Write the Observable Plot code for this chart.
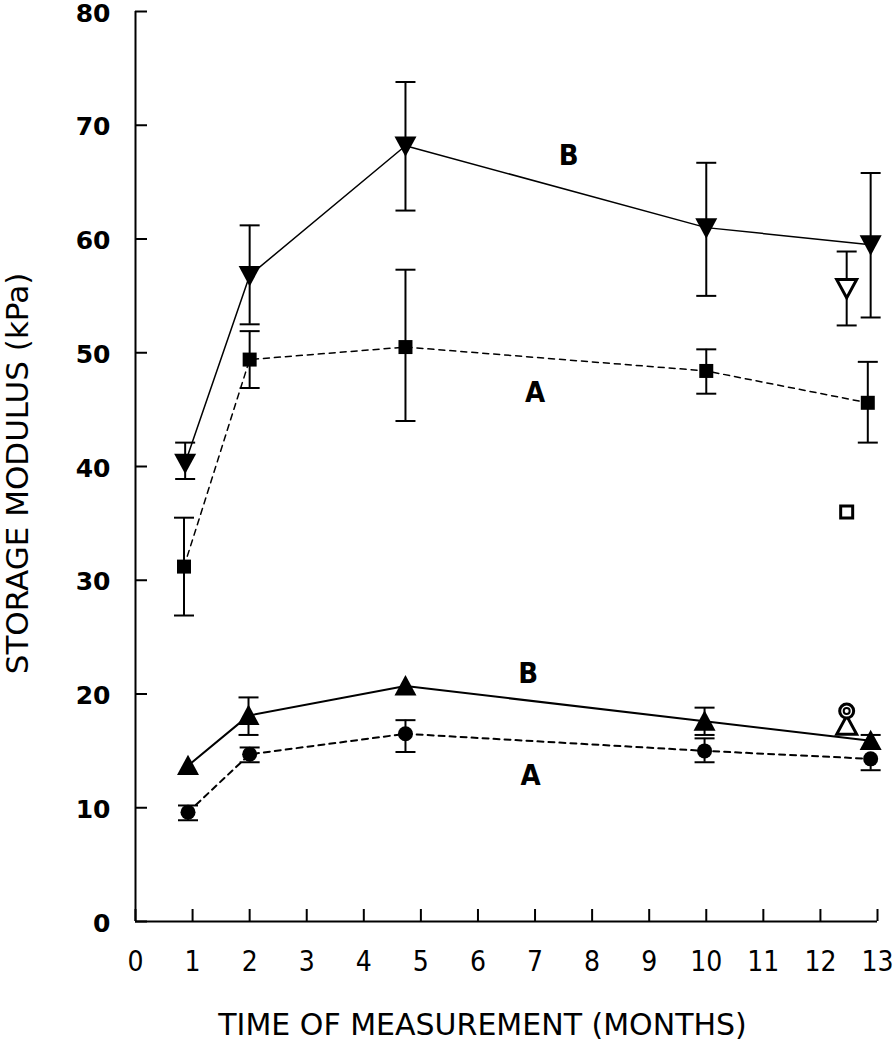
<!DOCTYPE html>
<html>
<head>
<meta charset="utf-8">
<script src="https://cdn.jsdelivr.net/npm/d3@7"></script>
<script src="https://cdn.jsdelivr.net/npm/@observablehq/plot@0.6"></script>
<style>
  html, body { margin: 0; padding: 0; background: #fff; }
  #chart svg { display: block; }
</style>
</head>
<body>
<div id="chart"></div>
<script>
// ---- data ----
const xTicks = [0, 1, 2, 3, 4, 5, 6, 7, 8, 9, 10, 11, 12, 13];
const yTicks = [0, 10, 20, 30, 40, 50, 60, 70, 80];

// upper group, series B (filled down-triangles, solid line)
const upperBMonths = [0.87, 2.0, 4.73, 10.0, 12.88];
const upperB   = [40.3, 56.8, 68.2, 61.0, 59.5];
const upperBLo = [38.9, 52.5, 62.5, 55.0, 53.1];
const upperBHi = [42.1, 61.2, 73.8, 66.7, 65.8];

// upper group, series A (filled squares, dashed line)
const upperAMonths = [0.85, 2.0, 4.73, 10.0, 12.83];
const upperA   = [31.2, 49.4, 50.5, 48.4, 45.6];
const upperALo = [26.9, 46.9, 44.0, 46.4, 42.1];
const upperAHi = [35.5, 51.9, 57.3, 50.3, 49.2];

// lower group, series B (filled up-triangles, solid line)
const lowerBMonths = [0.92, 1.98, 4.73, 9.97, 12.88];
const lowerB   = [13.7, 18.1, 20.7, 17.6, 15.9];
const lowerBLo = [null, 16.4, null, 16.4, null];
const lowerBHi = [null, 19.7, null, 18.8, 16.4];

// lower group, series A (filled circles, dashed line)
const lowerAMonths = [0.92, 2.0, 4.73, 9.97, 12.88];
const lowerA   = [9.6, 14.7, 16.5, 15.0, 14.3];
const lowerALo = [8.9, 14.0, 14.9, 14.0, 13.3];
const lowerAHi = [10.2, 15.3, 17.7, 16.1, null];

// single open markers
const openMonth = 12.46;
const openTriDown = 55.7, openTriDownLo = 52.4, openTriDownHi = 58.9;
const openSquare = 36.0;
const openTriUp = 17.2;
const openCircle = 18.5;

// series labels
const labelText = ["B", "A", "B", "A"];
const labelX = [7.59, 7.0, 6.88, 6.92];
const labelY = [67.3, 46.5, 21.8, 12.8];

// ---- build tables ----
const rows = (xs, v, lo, hi) => xs.map((x, i) => ({x, v: v[i], lo: lo[i], hi: hi[i]}));
const uB = rows(upperBMonths, upperB, upperBLo, upperBHi);
const uA = rows(upperAMonths, upperA, upperALo, upperAHi);
const lB = rows(lowerBMonths, lowerB, lowerBLo, lowerBHi);
const lA = rows(lowerAMonths, lowerA, lowerALo, lowerAHi);
const oTD = [{x: openMonth, v: openTriDown, lo: openTriDownLo, hi: openTriDownHi}];
const labels = labelText.map((t, i) => ({t, x: labelX[i], y: labelY[i]}));

// ---- custom symbols ----
const sym = fn => ({draw(ctx, size) { const r = Math.sqrt(size / Math.PI); fn(ctx, r); }});
const triDown = sym((c, r) => { c.moveTo(-r, -r * 0.85); c.lineTo(r, -r * 0.85); c.lineTo(0, r); c.closePath(); });
const triUp = sym((c, r) => { c.moveTo(-r, r * 0.85); c.lineTo(r, r * 0.85); c.lineTo(0, -r); c.closePath(); });
const square = sym((c, r) => { c.rect(-r, -r, 2 * r, 2 * r); });
const cap = sym((c, r) => { c.moveTo(-r, 0); c.lineTo(r, 0); });

const errMarks = (data) => [
  Plot.ruleX(data.filter(d => d.lo != null || d.hi != null),
    {x: "x", y1: d => d.lo ?? d.v, y2: d => d.hi ?? d.v, stroke: "black", strokeWidth: 2}),
  Plot.dot(data.filter(d => d.hi != null), {x: "x", y: "hi", symbol: cap, r: 10, stroke: "black", strokeWidth: 2, fill: "none"}),
  Plot.dot(data.filter(d => d.lo != null), {x: "x", y: "lo", symbol: cap, r: 10, stroke: "black", strokeWidth: 2, fill: "none"})
];

const condensed = "'DejaVu Sans Condensed', 'DejaVu Sans', sans-serif";
const wide = "'DejaVu Sans', sans-serif";

const chart = Plot.plot({
  width: 895,
  height: 1050,
  marginLeft: 135,
  marginRight: 18,
  marginTop: 11,
  marginBottom: 129,
  style: {fontFamily: wide, fontSize: "24px", color: "black", background: "white"},
  x: {domain: [0, 13]},
  y: {domain: [0, 80]},
  marks: [
    // axis lines
    Plot.ruleX([0], {stroke: "black", strokeWidth: 2}),
    Plot.ruleY([0], {stroke: "black", strokeWidth: 2}),
    // inward ticks
    Plot.axisY(yTicks, {tickSize: -12, fill: "none", strokeWidth: 2, label: null}),
    Plot.axisX(xTicks, {tickSize: -12, fill: "none", strokeWidth: 2, label: null}),
    // tick labels
    Plot.axisY(yTicks, {tickSize: 0, tickPadding: 25, label: null, fontWeight: "bold", fontSize: 25, fontFamily: wide, dy: 2}),
    Plot.axisX(xTicks, {tickSize: 0, tickPadding: 30, label: null, fontSize: 28, fontFamily: condensed}),
    // axis titles
    Plot.text(["STORAGE MODULUS (kPa)"], {frameAnchor: "left", textAnchor: "middle", dx: -117, dy: 7, rotate: -90,
      fontSize: 31, fontFamily: wide, text: d => d}),
    Plot.text(["TIME OF MEASUREMENT (MONTHS)"], {frameAnchor: "bottom", textAnchor: "middle", dx: -24, dy: 113,
      fontSize: 30, fontFamily: wide, text: d => d}),
    // lines
    Plot.line(uB, {x: "x", y: "v", stroke: "black", strokeWidth: 1.5}),
    Plot.line(uA, {x: "x", y: "v", stroke: "black", strokeWidth: 1.5, strokeDasharray: "6,5"}),
    Plot.line(lB, {x: "x", y: "v", stroke: "black", strokeWidth: 2}),
    Plot.line(lA, {x: "x", y: "v", stroke: "black", strokeWidth: 2, strokeDasharray: "6,5"}),
    // error bars
    ...errMarks(uB), ...errMarks(uA), ...errMarks(lB), ...errMarks(lA), ...errMarks(oTD),
    // markers
    Plot.dot(uB, {x: "x", y: "v", symbol: triDown, r: 11, fill: "black"}),
    Plot.dot(uA, {x: "x", y: "v", symbol: square, r: 7, fill: "black"}),
    Plot.dot(lB, {x: "x", y: "v", symbol: triUp, r: 11, fill: "black"}),
    Plot.dot(lA, {x: "x", y: "v", r: 7.5, fill: "black"}),
    Plot.dot(oTD, {x: "x", y: "v", symbol: triDown, r: 10, fill: "white", stroke: "black", strokeWidth: 3}),
    Plot.dot([openSquare], {x: () => openMonth, y: d => d, symbol: square, r: 6, fill: "white", stroke: "black", strokeWidth: 3}),
    Plot.dot([openTriUp], {x: () => openMonth, y: d => d, symbol: triUp, r: 10, fill: "white", stroke: "black", strokeWidth: 3}),
    Plot.dot([openCircle], {x: () => openMonth, y: d => d, r: 7, fill: "white", stroke: "black", strokeWidth: 3}),
    Plot.dot([openCircle], {x: () => openMonth, y: d => d, r: 3, fill: "none", stroke: "black", strokeWidth: 2}),
    // series labels
    Plot.text(labels, {x: "x", y: "y", text: "t", fontSize: 29, fontWeight: "bold", fontFamily: condensed})
  ]
});
document.getElementById("chart").appendChild(chart);
</script>
</body>
</html>
